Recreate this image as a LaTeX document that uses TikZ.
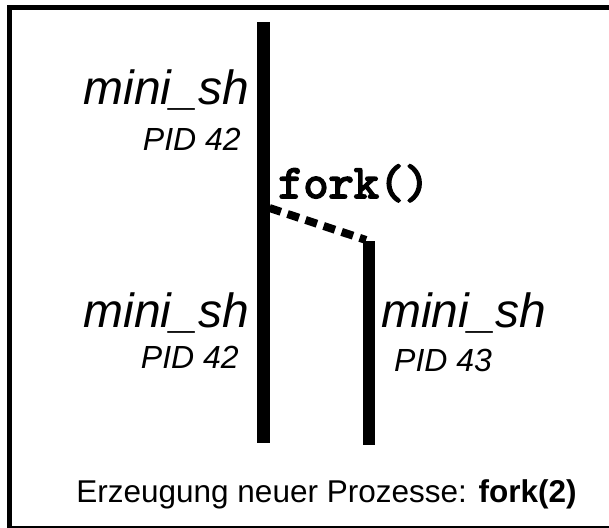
\documentclass[tikz,border=0pt]{standalone}
\usepackage{fontspec}
\setmainfont{Liberation Sans}
\newfontfamily\codefont[FakeBold=3.5]{lmmono10-regular.otf}
\usetikzlibrary{positioning}

\tikzset{
  proc/.style={line width=12.5pt},
  forkline/.style={line width=8pt, dash pattern=on 12pt off 7pt},
  pname/.style={font=\fontsize{48}{48}\selectfont\itshape, inner sep=0pt},
  pid/.style={font=\fontsize{32}{32}\selectfont\itshape, inner sep=0pt},
}

\begin{document}
\begin{tikzpicture}[x=1pt,y=-1pt]

  % picture area, the frame runs off at the right and bottom
  \useasboundingbox (0,0) rectangle (609,527);
  \clip (0,0) rectangle (609,527);
  \draw[line width=4.5pt] (9.5,7.5) rectangle (616,528.5);

  % parent process and child process
  \coordinate (ptop) at (263.5,22);
  \coordinate (pbot) at (263.5,443);
  \coordinate (ctop) at (369,241);
  \coordinate (cbot) at (369,445);
  \draw[proc] (ptop) -- (pbot);
  \draw[proc] (ctop) -- (cbot);

  % the fork
  \coordinate (forkpt) at (269.5,208);
  \coordinate (forkend) at (366,240);
  \draw[forkline] (forkpt) -- (forkend);
  \node[font=\fontsize{48}{48}\selectfont\codefont, inner sep=0pt, anchor=base west]
    (forklbl) at (278,198) {fork()};

  % labels
  \node[pname, anchor=base east] (name1) at (249,104) {mini\_sh};
  \node[pid, anchor=base east] (pid1) at (241,150) {PID 42};
  \node[pname, anchor=base east] (name2) at (249,327) {mini\_sh};
  \node[pid, anchor=base east] (pid2) at (239,368) {PID 42};
  \node[pname, anchor=base west] (name3) at (381,327) {mini\_sh};
  \node[pid, anchor=base west] (pid3) at (394,371) {PID 43};

  % caption
  \node[font=\fontsize{31.5}{31.5}\selectfont, inner sep=0pt, anchor=base] (caption) at (326.5,502)
    {Erzeugung neuer Prozesse: \textbf{fork(2)}};

\end{tikzpicture}
\end{document}
